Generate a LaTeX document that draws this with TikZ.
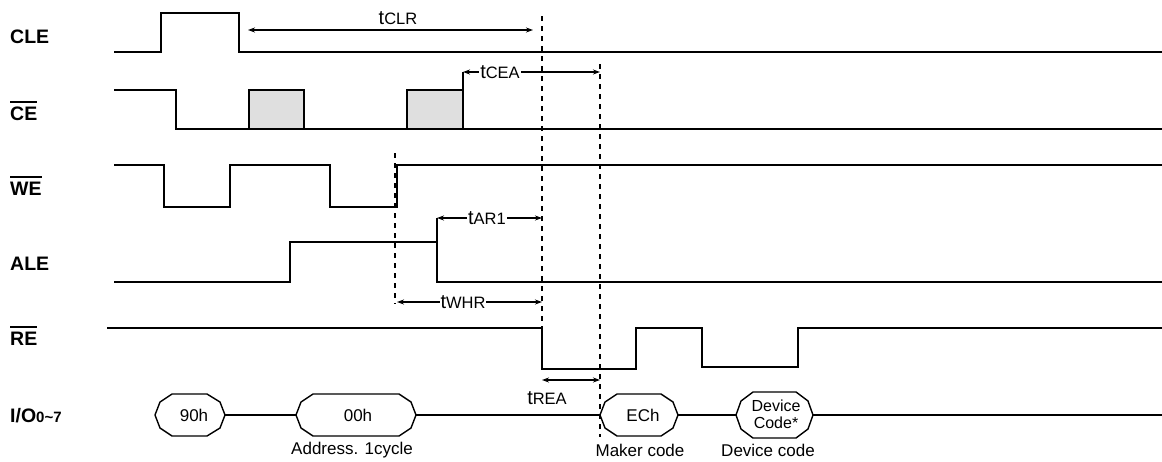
\documentclass[tikz,border=0pt]{standalone}
\usepackage{fontspec}
\setmainfont{Liberation Sans}
\usetikzlibrary{arrows.meta}

\newcommand{\ovl}[1]{\vbox{\hrule height 1.8pt\kern 3.5pt\hbox{#1}}}
\newcommand{\tname}[1]{{\fontsize{20}{20}\selectfont t}#1}

\begin{document}
\begin{tikzpicture}[x=1pt,y=-1pt,
    sig/.style={line width=1.8pt},
    guide/.style={line width=1.4pt,dash pattern=on 5pt off 5pt},
    dim/.style={line width=1.4pt,{Stealth[length=7pt,width=5pt]}-{Stealth[length=7pt,width=5pt]}},
    signame/.style={font=\fontsize{19.5}{20}\selectfont\bfseries,anchor=base west,inner sep=0pt},
    tlabel/.style={font=\fontsize{16.5}{17}\selectfont,fill=white,inner sep=1pt},
    buslabel/.style={font=\fontsize{17}{17}\selectfont,inner sep=0pt}]
                \useasboundingbox (0,0) rectangle (1162,461);

                % signal names
                \node[signame] (cle) at (10,43) {CLE};
                \node[signame] (ce) at (10,120) {\ovl{CE}};
                \node[signame] (we) at (10,195) {\ovl{WE}};
                \node[signame] (ale) at (10,270) {ALE};
                \node[signame] (re) at (10,345) {\ovl{RE}};
                \node[signame] (io) at (10,422) {I/O{\fontsize{15}{15}\selectfont 0\textasciitilde 7}};

                % waveforms
                \draw[sig] (114,52) -- (161,52) -- (161,13) -- (239,13) -- (239,52) -- (1162,52); %CLE
                \draw[sig] (114,90) -- (176,90) -- (176,129) -- (1162,129); %CE
                \draw[sig,fill=gray!25] (249,129) rectangle (304,90);
                \draw[sig,fill=gray!25] (407,129) rectangle (463,90);
                \draw[sig] (463,90) -- (463,72);
                \draw[sig] (114,165) -- (164,165) -- (164,207) -- (230,207) -- (230,165) -- (330,165) -- (330,207) -- (397,207) -- (397,165) -- (1162,165); %WE
                \draw[sig] (114,282) -- (290,282) -- (290,242) -- (437,242) -- (437,282) -- (1162,282); %ALE
                \draw[sig] (437,242) -- (437,218);
                \draw[sig] (107,328) -- (542,328) -- (542,369) -- (636,369) -- (636,328) -- (702,328) -- (702,367) -- (798,367) -- (798,328) -- (1162,328); %RE

                % guides
                \draw[guide] (542,16) -- (542,328);
                \draw[guide] (600,64) -- (600,437);
                \draw[guide] (395,153) -- (395,304);

                % timings
                \draw[dim] (248,30) -- (533,30);
                \node[tlabel,fill=none] (tclr) at (398,18) {\tname{CLR}};
                \draw[dim] (463,72) -- (600,72);
                \node[tlabel] (tcea) at (500,72) {\tname{CEA}};
                \draw[dim] (437,218) -- (542,218);
                \node[tlabel] (tar) at (487,218) {\tname{AR1}};
                \draw[dim] (397,302) -- (542,302);
                \node[tlabel] (twhr) at (463,302) {\tname{WHR}};
                \draw[dim] (542,380) -- (600,380);
                \node[tlabel,fill=none] (trea) at (547,398) {\tname{REA}};

                % I/O bus
                \draw[sig,line width=1.4pt] (155,415) -- (160,402) -- (172,394) -- (207,394) -- (220,402) -- (225,415) -- (220,428) -- (207,436) -- (172,436) -- (160,428) -- cycle;
                \node[buslabel] (b90) at (194,415) {90h};
                \draw[sig,line width=1.4pt] (296,415) -- (301,402) -- (313,394) -- (399,394) -- (411,402) -- (416,415) -- (411,428) -- (399,436) -- (313,436) -- (301,428) -- cycle;
                \node[buslabel] (b00) at (358,415) {00h};
                \draw[sig,line width=1.4pt] (600,415) -- (605,402) -- (617,394) -- (661,394) -- (673,402) -- (678,415) -- (673,428) -- (661,436) -- (617,436) -- (605,428) -- cycle;
                \node[buslabel] (bec) at (643,415) {ECh};
                \draw[sig,line width=1.4pt] (736,415) -- (741,401) -- (753,392) -- (796,392) -- (808,401) -- (813,415) -- (808,429) -- (796,438) -- (753,438) -- (741,429) -- cycle;
                \node[buslabel,font=\fontsize{16}{17}\selectfont,align=center] (bdev) at (776,414) {Device\\Code*};
                \draw[line width=1.4pt] (225,415) -- (296,415);
                \draw[line width=1.4pt] (416,415) -- (600,415);
                \draw[line width=1.4pt] (678,415) -- (736,415);
                \draw[line width=1.4pt] (813,415) -- (1162,415);

                \node[buslabel] (addr) at (352,450) {Address. 1cycle};
                \node[buslabel] (maker) at (640,450) {Maker code};
                \node[buslabel] (devc) at (768,450) {Device code};
            \end{tikzpicture}
\end{document}
